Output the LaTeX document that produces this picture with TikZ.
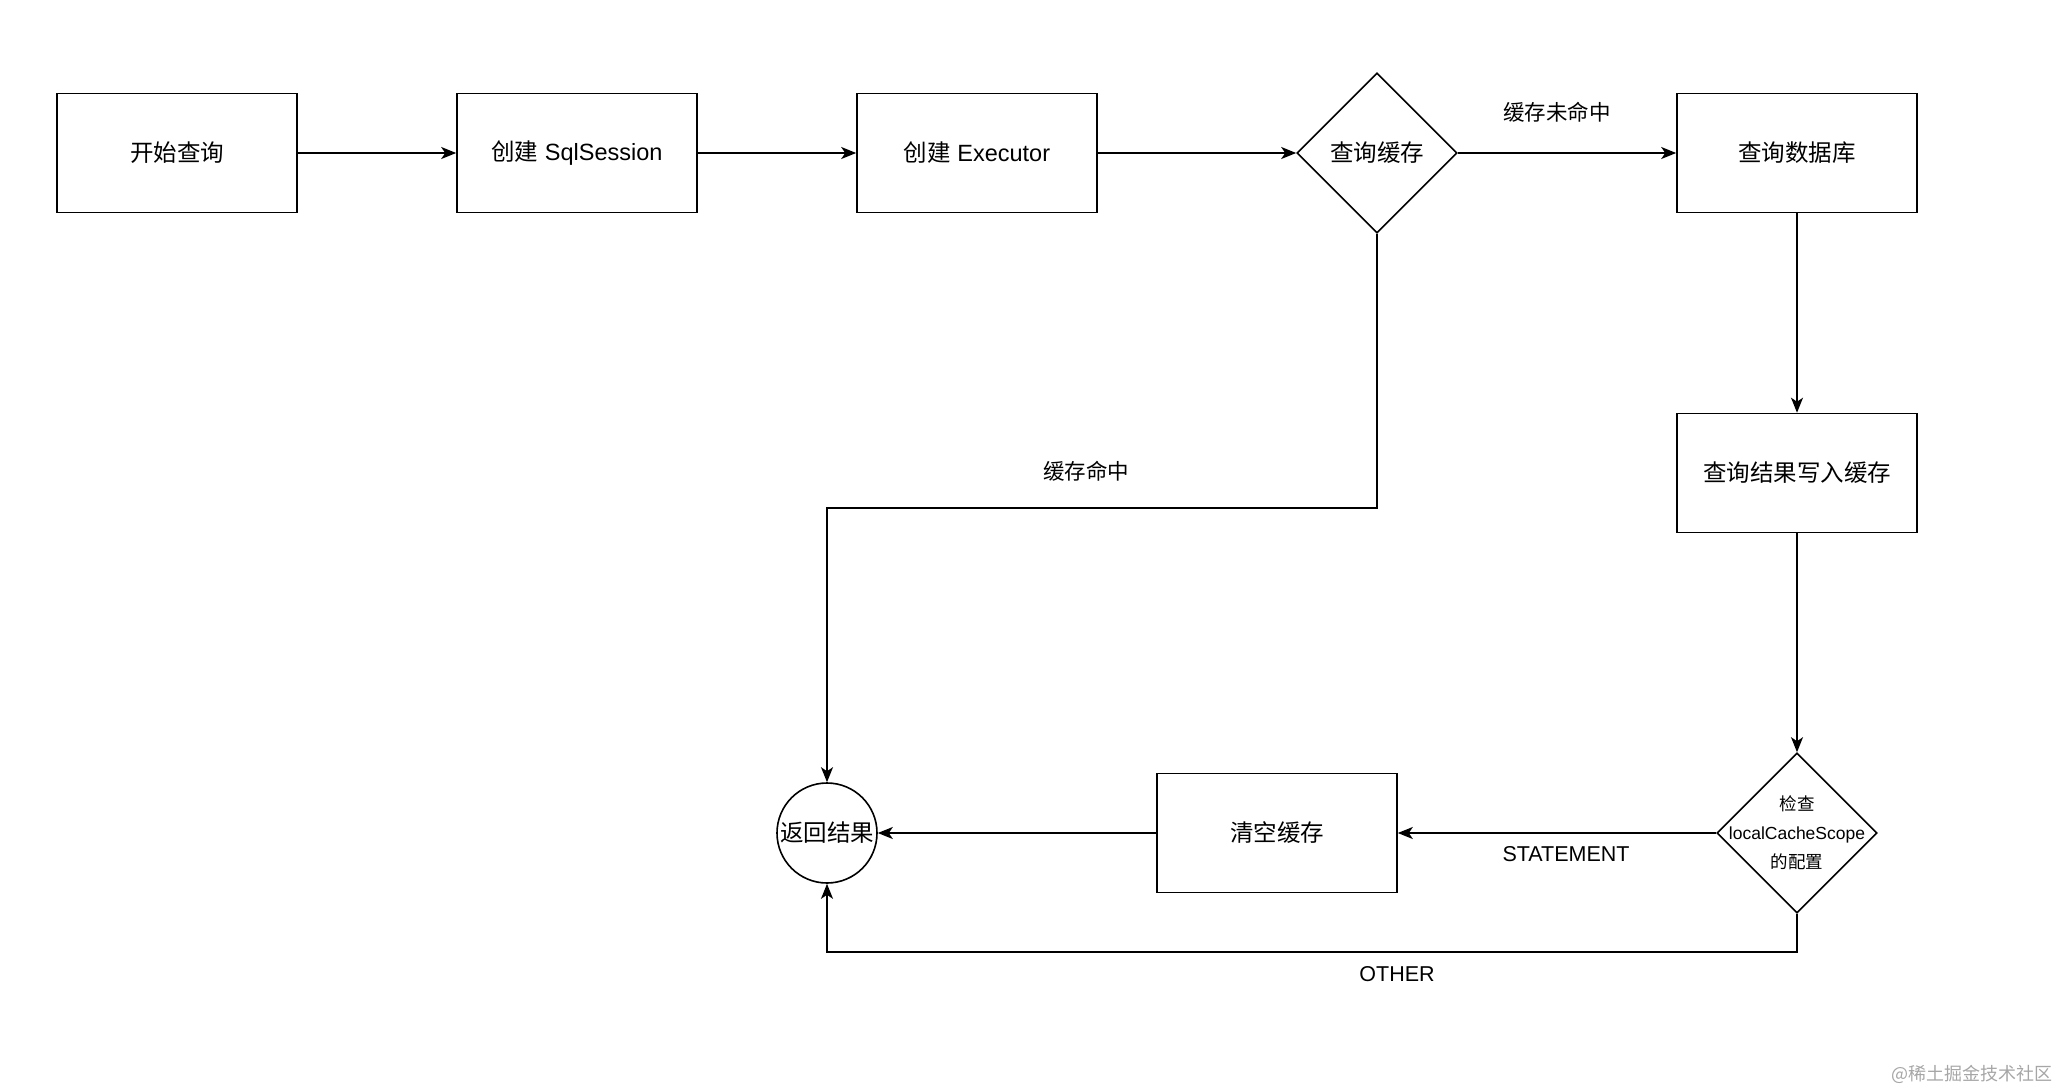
\documentclass[tikz,border=0pt]{standalone}
\usepackage{fontspec}
\setmainfont{Liberation Sans}
\newfontfamily\cjk{Noto Sans CJK SC}
\usetikzlibrary{shapes.geometric,arrows.meta}
\begin{document}
\begin{tikzpicture}[x=1pt,y=-1pt,
  box/.style={draw,line width=1.6pt,minimum width=240pt,minimum height=119pt,inner sep=0pt,font=\fontsize{23.5}{28}\selectfont},
  dia/.style={draw,line width=1.6pt,diamond,minimum width=160pt,minimum height=160pt,inner sep=0pt,font=\fontsize{23.5}{28}\selectfont},
  conn/.style={line width=1.6pt,-{Stealth[length=15pt,width=12pt,inset=4pt]}},
  lbl/.style={font=\fontsize{21.5}{26}\selectfont}]
\useasboundingbox (0,0) rectangle (2062,1090);
\node[box] (start) at (177,153) {{\cjk 开始查询}};
\node[box] (sess) at (577,153) {{\cjk 创建} SqlSession};
\node[box] (exec) at (977,153) {{\cjk 创建} Executor};
\node[dia] (cache) at (1377,153) {{\cjk 查询缓存}};
\node[box] (db) at (1797,153) {{\cjk 查询数据库}};
\node[box] (write) at (1797,473) {{\cjk 查询结果写入缓存}};
\node[dia] (check) at (1797,833) {};
\node[font=\fontsize{17.5}{29}\selectfont,align=center,inner sep=0pt] (checktxt) at (check.center) {{\cjk 检查}\\localCacheScope\\{\cjk 的配置}};
\node[box] (clear) at (1277,833) {{\cjk 清空缓存}};
\node[draw,circle,line width=1.6pt,minimum size=100pt,inner sep=0pt,font=\fontsize{23.5}{28}\selectfont] (ret) at (827,833) {{\cjk 返回结果}};
\coordinate (hitc) at (1377,508);
\coordinate (otherc) at (1797,952);
\draw[conn] (start) -- (sess);
\draw[conn] (sess) -- (exec);
\draw[conn] (exec) -- (cache);
\draw[conn] (cache) -- (db);
\draw[conn] (db) -- (write);
\draw[conn] (write) -- (check);
\draw[conn] (check) -- (clear);
\draw[conn] (clear) -- (ret);
\draw[conn] (cache.south) -- (hitc) -| (ret.north);
\draw[conn] (check.south) -- (otherc) -| (ret.south);
\node[lbl] (l1) at (1557,112) {{\cjk 缓存未命中}};
\node[lbl] (l2) at (1086,471) {{\cjk 缓存命中}};
\node[lbl] (l3) at (1566,854) {STATEMENT};
\node[lbl] (l4) at (1397,974) {OTHER};
\node[font=\fontsize{18}{22}\selectfont,text=black!35,anchor=east] (wm) at (2056,1074) {{\cjk @稀土掘金技术社区}};
\end{tikzpicture}
\end{document}
